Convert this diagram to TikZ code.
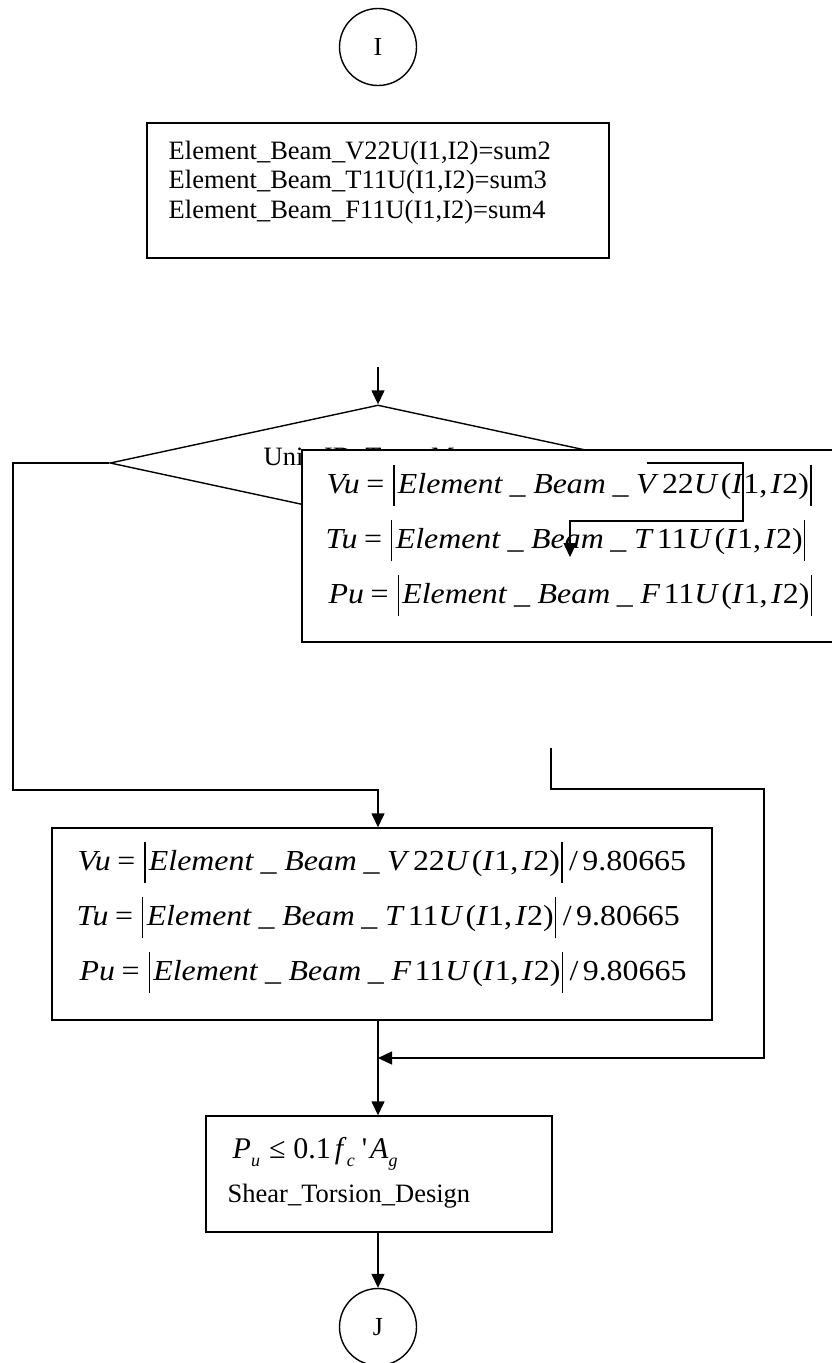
\documentclass[tikz,border=0pt]{standalone}
\usepackage{fontspec}
\usepackage{graphicx}
\setmainfont{Liberation Serif}
\newfontfamily\qfont{Liberation Serif}
\usetikzlibrary{arrows.meta,shapes.geometric}
\newcommand\absbar{\rule[-0.45em]{0.045em}{1.4em}}
\newcommand\gap[1]{\hspace{#1pt}}
\newcommand\eqfont{\fontsize{29}{29}\selectfont}
\newcommand\eqbody[2]{\textit{#1}\gap{6}=\gap{8}\absbar\gap{3}\textit{Element}\gap{6}\_\gap{7}\textit{Beam}\gap{6}\_\gap{7}#2\gap{2}(\textit{I}1,\gap{3}\textit{I}2)\gap{1}\absbar}
\newcommand\eqA[2]{\scalebox{1.1}[1]{\eqfont\eqbody{#1}{#2}}}
\newcommand\eqB[2]{\scalebox{1.1}[1]{\eqfont\eqbody{#1}{#2}\gap{6}/\gap{4}9.80665}}
\newcommand\subs[1]{\raisebox{-0.28em}{\fontsize{18}{18}\selectfont\textit{#1}}}
\begin{document}
\begin{tikzpicture}[x=1pt,y=-1pt,line width=1.4pt,
  arr/.style={-{Triangle[length=14pt,width=13pt]}},
  conn/.style={circle,draw,minimum size=77pt,inner sep=0pt,font=\fontsize{26}{26}\selectfont},
  boxnode/.style={draw,rectangle,inner sep=0pt},
  txt/.style={inner sep=0pt,anchor=base west,font=\fontsize{26.5}{29.5}\selectfont},
  eqtxt/.style={inner sep=0pt,anchor=base west}]
\useasboundingbox (0,0) rectangle (831,1363);
\fill[white] (0,0) rectangle (831,1363);

% top connector and first box
\node[conn] (I) at (378,47) {I};
\node[boxnode,minimum width=462pt,minimum height=135pt] (b1) at (378,190.5) {};
\node[txt] (t1a) at (168,159) {Element\_Beam\_V22U(I1,I2)=sum2};
\node[txt] (t1b) at (168,188.5) {Element\_Beam\_T11U(I1,I2)=sum3};
\node[txt] (t1c) at (168,218) {Element\_Beam\_F11U(I1,I2)=sum4};

% decision
\node[diamond,draw,minimum width=536pt,minimum height=116pt,inner sep=0pt] (d) at (378,463) {};
\coordinate (dtop) at (378,367);
\draw[arr] (dtop) -- (d.north);
\node[txt] (dt) at (263,465) {Unit\_ID\_Type\_M};

% overlapping box
\node[boxnode,fill=white,minimum width=560pt,minimum height=192pt] (b2) at (582,546) {};
\node[eqtxt] (e1) at (326,493) {\eqA{Vu}{\textit{V}\gap{3}22\textit{U}}};
\node[eqtxt] (e2) at (325,548) {\eqA{Tu}{\textit{T}\gap{3}11\textit{U}}};
\node[eqtxt] (e3) at (328,603) {\eqA{Pu}{\textit{F}\gap{3}11\textit{U}}};

\coordinate (r1) at (743,463);
\coordinate (r2) at (743,521);
\coordinate (r3) at (570,521);
\coordinate (r4) at (570,557);
\draw[arr] (d.east) -- (r1) -- (r2) -- (r3) -- (r4);

% left loop
\coordinate (L1) at (13,463);
\coordinate (L2) at (13,790);
\node[boxnode,minimum width=660pt,minimum height=192pt] (b3) at (382,924) {};
\draw[arr] (d.west) -- (L1) -- (L2) -| (b3.north -| I.center);
\node[eqtxt] (f1) at (77,870) {\eqB{Vu}{\textit{V}\gap{3}22\textit{U}}};
\node[eqtxt] (f2) at (76,925) {\eqB{Tu}{\textit{T}\gap{3}11\textit{U}}};
\node[eqtxt] (f3) at (79,980) {\eqB{Pu}{\textit{F}\gap{3}11\textit{U}}};

% right path
\coordinate (R0) at (551,748);
\coordinate (R1) at (551,789);
\coordinate (R2) at (764,789);
\coordinate (R3) at (764,1058);
\coordinate (J1) at (378,1058);
\draw[arr] (R0) -- (R1) -- (R2) -- (R3) -- (J1);

% design box
\node[boxnode,minimum width=346pt,minimum height=116pt] (b4) at (379,1174) {};
\draw[arr] (b3.south -| I.center) -- (b4.north -| I.center);
\node[eqtxt,font=\fontsize{30}{30}\selectfont] (g1) at (232,1158) {\textit{P}\subs{u}\gap{9}≤\gap{8}0.1\gap{4}\textit{f}\subs{c}\gap{7}{\qfont\symbol{39}}\gap{3}\textit{A}\subs{g}};
\node[txt] (g2) at (227,1202) {Shear\_Torsion\_Design};

\node[conn] (J) at (378,1327) {J};
\draw[arr] (b4.south -| I.center) -- (J.north);
\end{tikzpicture}
\end{document}
